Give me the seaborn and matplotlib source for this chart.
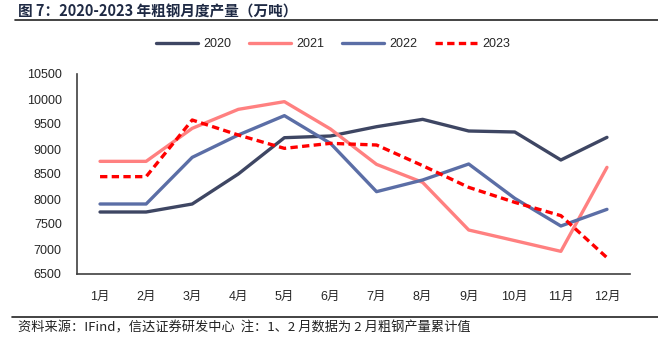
import numpy as np
import pandas as pd
import seaborn as sns
import matplotlib.pyplot as plt
from matplotlib.lines import Line2D

months = ['1月', '2月', '3月', '4月', '5月', '6月', '7月', '8月', '9月', '10月', '11月', '12月']
y2020 = [7740, 7740, 7900, 8500, 9226, 9260, 9446, 9593, 9360, 9340, 8780, 9233]
y2021 = [8753, 8753, 9413, 9793, 9947, 9400, 8693, 8333, 7380, 7167, 6953, 8633]
y2022 = [7900, 7900, 8833, 9280, 9667, 9113, 8147, 8380, 8700, 8013, 7460, 7793]
y2023 = [8447, 8447, 9580, 9280, 9013, 9113, 9080, 8667, 8233, 7933, 7667, 6827]
years = ['2020', '2021', '2022', '2023']
colors = {'2020': '#3e4663', '2021': '#ff8080', '2022': '#5b6ea6', '2023': '#ff0000'}

rows = []
for yr, vals in zip(years, [y2020, y2021, y2022, y2023]):
    for i, v in enumerate(vals):
        rows.append({'x': i, 'value': v, 'year': yr})
df = pd.DataFrame(rows)

sns.set_style('white')
plt.rcParams['font.family'] = ['Liberation Sans', 'Noto Sans CJK SC', 'DejaVu Sans']

fig = plt.figure(figsize=(6.58, 3.52), dpi=100)
ax = fig.add_axes([77 / 658, 1 - 274 / 352, 553 / 658, 200 / 352])

sns.lineplot(data=df, x='x', y='value', hue='year', style='year',
             palette=colors, dashes={'2020': '', '2021': '', '2022': '', '2023': (2.2, 1.3)},
             linewidth=2.4, ax=ax, legend=False)

ax.set_xlim(-0.5, 11.5)
ax.set_ylim(6500, 10500)
ax.set_yticks(np.arange(6500, 10501, 500))
ax.set_xticks(np.arange(-0.5, 12, 1))
ax.set_xticklabels([])
ax.set_xticks(np.arange(12), minor=True)
ax.set_xticklabels(months, minor=True)
ax.tick_params(axis='x', which='major', direction='out', length=5, width=1, color='#404040')
ax.tick_params(axis='x', which='minor', length=0, pad=12, labelsize=9)
ax.tick_params(axis='y', direction='out', length=5, width=1, color='#404040', labelsize=9, pad=6)
ax.set_xlabel('')
ax.set_ylabel('')
for s in ['top', 'right']:
    ax.spines[s].set_visible(False)
for s in ['left', 'bottom']:
    ax.spines[s].set_color('#404040')
    ax.spines[s].set_linewidth(1.2)

handles = [Line2D([0], [0], color=colors[y], lw=2.4,
                  linestyle='-' if y != '2023' else (0, (2.2, 1.3))) for y in years]
fig.legend(handles, years, loc='center', bbox_to_anchor=(333 / 658, 1 - 44 / 352), ncol=4,
           frameon=False, fontsize=9, handlelength=3.4, columnspacing=1.4, handletextpad=0.4)

fig.text(18 / 658, 1 - 11 / 352, '图 7：2020-2023 年粗钢月度产量（万吨）', fontsize=10.5,
         fontweight='bold', color='#1f2a44', va='center', ha='left',
         family=['Noto Sans CJK SC', 'DejaVu Sans'])
fig.add_artist(Line2D([15 / 658, 1], [1 - 20 / 352, 1 - 20 / 352], color='#222222', lw=1.2))
fig.add_artist(Line2D([12 / 658, 1], [1 - 317 / 352, 1 - 317 / 352], color='#222222', lw=1.2))
fig.text(18 / 658, 1 - 328 / 352, '资料来源：IFind，信达证券研发中心  注：1、2 月数据为 2 月粗钢产量累计值',
         fontsize=9.5, color='#222222', va='center', ha='left',
         family=['Noto Sans CJK SC', 'DejaVu Sans'])

fig.savefig('out.png', dpi=100)
